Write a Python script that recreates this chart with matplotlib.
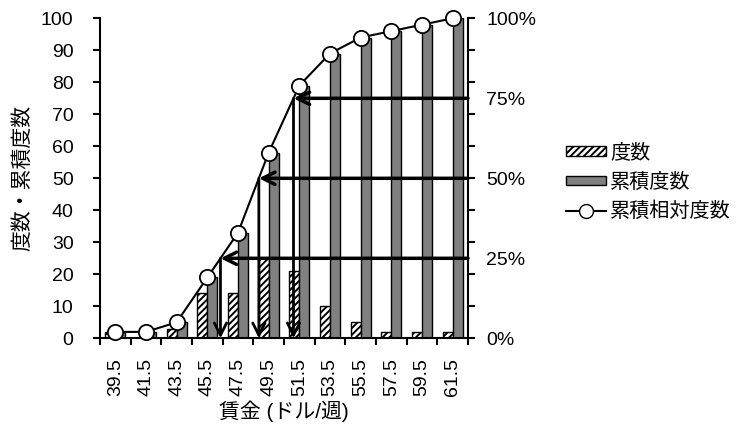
import numpy as np
import matplotlib
matplotlib.use("Agg")
import matplotlib.pyplot as plt
from matplotlib.patches import Patch
from matplotlib.lines import Line2D

plt.rcParams['font.family'] = ['Liberation Sans', 'Noto Sans CJK JP']
plt.rcParams['hatch.linewidth'] = 1.4

# data
wages = ['39.5', '41.5', '43.5', '45.5', '47.5', '49.5', '51.5',
         '53.5', '55.5', '57.5', '59.5', '61.5']
freq = [2, 0, 3, 14, 14, 25, 21, 10, 5, 2, 2, 2]
cum_freq = [2, 2, 5, 19, 33, 58, 79, 89, 94, 96, 98, 100]
levels = [25, 50, 75]

x = np.arange(len(wages))
cum_pct = np.array(cum_freq) / cum_freq[-1] * 100

fig = plt.figure(figsize=(7.39, 4.36), dpi=100)
ax = fig.add_axes([0.1353, 0.2241, 0.4980, 0.7339])
ax2 = ax.twinx()

w = 0.33
ax.bar(x - w / 2, freq, w, color='white', edgecolor='black', hatch='/////', lw=1.0, zorder=2)
ax.bar(x + w / 2, cum_freq, w, color='#808080', edgecolor='black', lw=1.0, zorder=2)

ax.set_xlim(-0.5, len(wages) - 0.5)
ax.set_ylim(0, 100)
ax.set_yticks(np.arange(0, 101, 10))
ax.set_xticks(x)
ax.set_xticklabels(wages, rotation=90)
ax.set_xticks(np.arange(-0.5, len(wages), 1), minor=True)
ax.tick_params(axis='x', which='major', length=0, pad=14, labelsize=14)
ax.tick_params(axis='x', which='minor', length=5, width=1.5)
ax.tick_params(axis='y', length=5, width=1.5, pad=14, labelsize=14)
ax.spines['top'].set_visible(False)
ax.spines['right'].set_visible(False)
for s in ['left', 'bottom']:
    ax.spines[s].set_linewidth(1.5)
ax.set_ylabel('度数・累積度数', fontsize=15, labelpad=6)
ax.set_xlabel('賃金 (ドル/週)', fontsize=15, labelpad=3)

# cumulative relative frequency
ax2.plot(x, cum_pct, color='black', lw=1.5, marker='o', ms=11,
         mfc='white', mec='black', mew=1.3, zorder=5, clip_on=False)
ax2.set_ylim(0, 100)
ax2.set_yticks([0, 25, 50, 75, 100])
ax2.set_yticklabels(['0%', '25%', '50%', '75%', '100%'])
ax2.set_yticks(np.arange(0, 101, 10), minor=True)
ax2.yaxis.remove_overlapping_locs = False
ax2.tick_params(axis='y', which='major', length=0, pad=13, labelsize=14)
ax2.tick_params(axis='y', which='minor', length=5, width=1.5)
ax2.spines['top'].set_visible(False)
ax2.spines['left'].set_visible(False)
ax2.spines['bottom'].set_visible(False)
ax2.spines['right'].set_linewidth(1.5)

# quartile arrows
for p in levels:
    xi = np.interp(p, cum_pct, x)
    ax2.annotate('', xy=(xi, p), xytext=(len(wages) - 0.5, p),
                 arrowprops=dict(arrowstyle='->', lw=2.5, mutation_scale=22,
                                 shrinkA=0, shrinkB=0, color='black'), zorder=6)
    ax2.annotate('', xy=(xi, 0), xytext=(xi, p),
                 arrowprops=dict(arrowstyle='->', lw=2.0, mutation_scale=22,
                                 shrinkA=0, shrinkB=0, color='black'), zorder=6)

handles = [Patch(facecolor='white', edgecolor='black', hatch='/////', label='度数'),
           Patch(facecolor='#808080', edgecolor='black', label='累積度数'),
           Line2D([], [], color='black', lw=1.5, marker='o', ms=10, mfc='white',
                  mec='black', label='累積相対度数')]
fig.legend(handles=handles, loc='center left', bbox_to_anchor=(0.766, 0.582),
           frameon=False, fontsize=14.5, handlelength=2.0, handleheight=0.35,
           labelspacing=0.5, handletextpad=0.2, borderaxespad=0, borderpad=0)

fig.savefig('out.png', dpi=100)
